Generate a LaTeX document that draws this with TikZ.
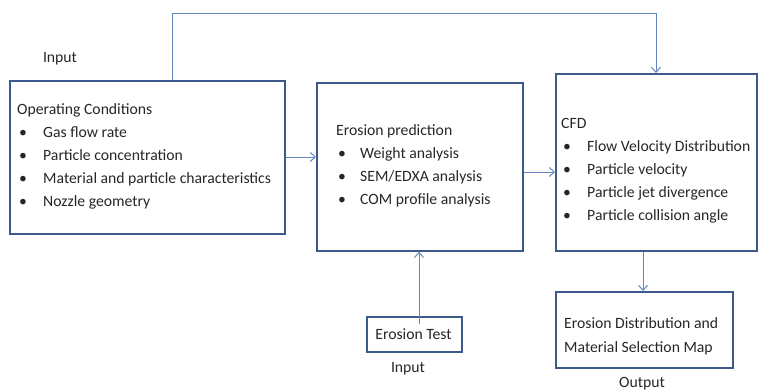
\documentclass[tikz,border=0pt]{standalone}
\usepackage{fontspec}
\setmainfont{Carlito}
\usetikzlibrary{arrows.meta}
\definecolor{boxc}{RGB}{60,90,140}
\definecolor{linec}{RGB}{100,135,190}
\newcommand{\bul}[1]{\makebox[#1][l]{\hspace{2pt}\textbullet}}
\begin{document}
\begin{tikzpicture}[x=1pt,y=-1pt,
  box/.style={draw=boxc,line width=1.8pt,inner sep=0pt,anchor=north west},
  conn/.style={draw=linec,line width=1pt,-{Straight Barb[length=5pt,width=9pt,line width=1pt]}},
  txt/.style={font=\fontsize{15.7}{23}\selectfont,inner sep=0pt,anchor=base west,text=black!85},
  lbl/.style={font=\fontsize{15.7}{18}\selectfont,inner sep=0pt,anchor=base,text=black!85}]
\useasboundingbox (0,0) rectangle (759,391);
% boxes
\node[box, minimum width=275pt, minimum height=153pt] (op) at (9,80) {};
\node[box, minimum width=206pt, minimum height=168pt] (ep) at (316,82) {};
\node[box, minimum width=201pt, minimum height=177pt] (cfd) at (555,73) {};
\node[box, minimum width=95pt, minimum height=35pt] (et) at (366,316) {};
\node[box, minimum width=177pt, minimum height=76pt] (out) at (555,291) {};
% texts
\node[txt] (optxt) at (17,114) {\begin{tabular}[t]{@{}l@{}}
Operating Conditions\\
\bul{26pt}Gas flow rate\\
\bul{26pt}Particle concentration\\
\bul{26pt}Material and particle characteristics\\
\bul{26pt}Nozzle geometry
\end{tabular}};
\node[txt] (eptxt) at (336,135) {\begin{tabular}[t]{@{}l@{}}
Erosion prediction\\
\bul{24pt}Weight analysis\\
\bul{24pt}SEM/EDXA analysis\\
\bul{24pt}COM profile analysis
\end{tabular}};
\node[txt] (cfdtxt) at (561,128) {\begin{tabular}[t]{@{}l@{}}
CFD\\
\bul{26pt}Flow Velocity Distribution\\
\bul{26pt}Particle velocity\\
\bul{26pt}Particle jet divergence\\
\bul{26pt}Particle collision angle
\end{tabular}};
\node[lbl] (ettxt) at (413.5,339) {Erosion Test};
\node[txt] (outtxt) at (564,328) {\begin{tabular}[t]{@{}l@{}}
Erosion Distribution and\\[1pt]
Material Selection Map
\end{tabular}};
\node[lbl] (in1) at (60,62) {Input};
\node[lbl] (in2) at (408,372) {Input};
\node[lbl] (outl) at (642,387) {Output};
% connectors
\coordinate (t1) at (172,13);
\coordinate (t2) at (656,13);
\draw[conn] (op.north -| t1) -- (t1) -- (t2) -- (cfd.north -| t2);
\draw[conn] (op.east |- 0,157) -- (ep.west |- 0,157);
\draw[conn] (ep.east |- 0,172) -- (cfd.west |- 0,172);
\draw[conn] ([yshift=-8pt]et.north -| 419,0) -- (ep.south -| 419,0);
\draw[conn] (cfd.south -| 643,0) -- (out.north -| 643,0);
\end{tikzpicture}
\end{document}
